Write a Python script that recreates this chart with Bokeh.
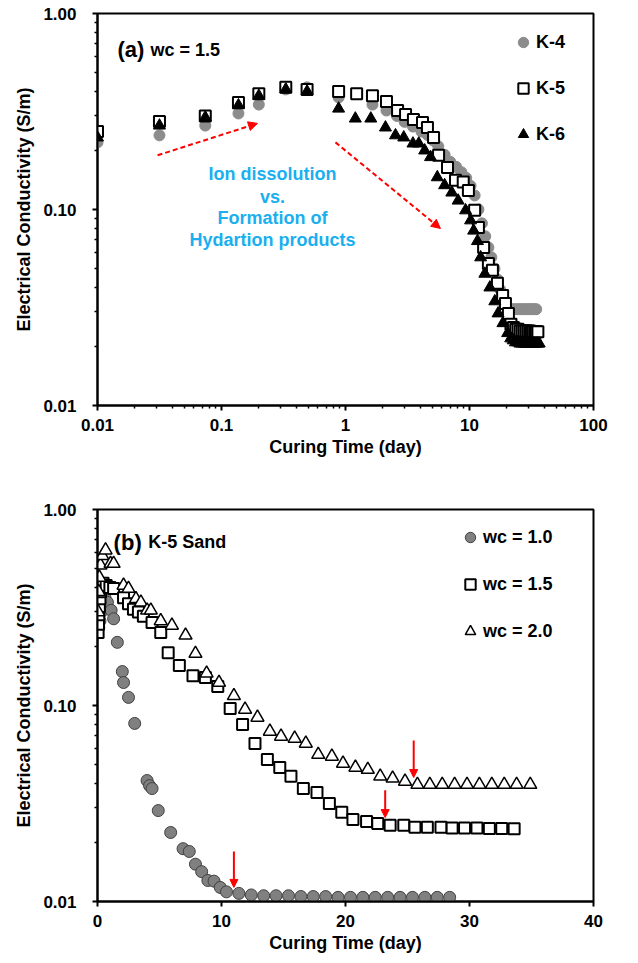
from bokeh.plotting import figure
from bokeh.layouts import column
from bokeh.models import (FixedTicker, CustomJSTickFormatter, Label, Arrow, NormalHead,
                          Legend, LegendItem, Range1d)
from bokeh.embed import file_html
from bokeh.resources import INLINE

FONT = "Liberation Sans"

# ---------------- Panel (a) data: wc = 1.5 ----------------
K4_time = [0.01, 0.0316, 0.074, 0.137, 0.2, 0.33, 0.49, 0.88, 1.23, 1.65,
           2.14, 2.6, 3.0, 3.5, 4.1, 4.6, 5.1, 5.6, 6.3, 7.0,
           7.8, 8.6, 9.4, 10.2, 11.0, 11.8, 12.6, 13.4, 14.2, 15.0,
           15.9, 16.8, 17.7, 18.6, 19.5, 20.5, 21.5, 22.5, 23.5, 24.5,
           25.5, 26.5, 27.5, 28.5, 29.5, 30.5, 31.5, 32.5, 33.5, 34.5]
K4_ec = [0.22, 0.239, 0.268, 0.309, 0.343, 0.41, 0.42, 0.373, 0.39, 0.343,
         0.32, 0.30, 0.28, 0.265, 0.25, 0.24, 0.225, 0.21, 0.19, 0.175,
         0.165, 0.155, 0.145, 0.132, 0.118, 0.10, 0.085, 0.073, 0.064, 0.057,
         0.05, 0.044, 0.039, 0.035, 0.033, 0.031, 0.031, 0.031, 0.031, 0.031,
         0.031, 0.031, 0.031, 0.031, 0.031, 0.031, 0.031, 0.031, 0.031, 0.031]

K5_time = [0.01, 0.0316, 0.074, 0.137, 0.2, 0.33, 0.49, 0.88, 1.23, 1.65,
           2.14, 2.63, 3.05, 3.53, 4.18, 4.58, 5.13, 5.63, 6.65, 7.71,
           8.9, 9.8, 11.0, 11.8, 13.0, 14.2, 15.3, 16.8, 18.5, 19.5,
           20.6, 21.6, 22.6, 23.6, 24.6, 25.6, 26.6, 27.6, 28.6, 29.6,
           30.6, 31.6, 32.6, 33.6, 34.6, 35.6]
K5_ec = [0.25, 0.281, 0.30, 0.351, 0.39, 0.42, 0.41, 0.40, 0.39, 0.38,
         0.356, 0.32, 0.305, 0.288, 0.278, 0.262, 0.233, 0.189, 0.164, 0.141,
         0.138, 0.125, 0.099, 0.081, 0.064, 0.053, 0.049, 0.042, 0.0364, 0.0331,
         0.0295, 0.026, 0.025, 0.0245, 0.0245, 0.024, 0.024, 0.024, 0.024, 0.024,
         0.024, 0.0238, 0.0238, 0.0238, 0.0238, 0.0238]

K6_time = [0.01, 0.0316, 0.074, 0.137, 0.2, 0.33, 0.49, 0.88, 1.2, 1.6,
           2.1, 2.53, 2.95, 3.5, 3.9, 4.35, 4.85, 5.5, 6.3, 7.2,
           8.1, 9.3, 10.2, 10.8, 11.6, 12.3, 13.3, 14.6, 16.0, 17.0,
           18.6, 20.3, 21.5, 22.5, 23.5, 24.5, 25.5, 26.5, 27.5, 28.5,
           29.5, 30.5, 31.5, 32.5, 33.5, 34.5, 35.5, 36.5]
K6_ec = [0.233, 0.268, 0.295, 0.34, 0.38, 0.41, 0.40, 0.327, 0.291, 0.291,
         0.262, 0.239, 0.233, 0.217, 0.217, 0.20, 0.185, 0.146, 0.133, 0.122,
         0.111, 0.099, 0.088, 0.078, 0.069, 0.057, 0.047, 0.040, 0.034, 0.0295,
         0.0263, 0.0234, 0.022, 0.0215, 0.021, 0.021, 0.0207, 0.0207, 0.0207, 0.0207,
         0.0207, 0.0207, 0.0207, 0.0207, 0.0207, 0.0207, 0.0207, 0.0207]

# ---------------- Panel (b) data: K-5 sand ----------------
wc10_time = [0.1, 0.2, 0.3, 0.45, 0.6, 0.8, 1.1, 1.3, 1.6, 2.0,
             2.1, 2.5, 3.0, 4.0, 4.2, 4.4, 4.9, 5.9, 6.9, 7.4,
             7.9, 8.4, 8.9, 9.4, 9.9, 10.4, 11.4, 12.4, 13.4, 14.4,
             15.4, 16.4, 17.4, 18.4, 19.4, 20.4, 21.4, 22.4, 23.4, 24.4,
             25.4, 26.4, 27.4, 28.4]
wc10_ec = [0.25, 0.27, 0.30, 0.33, 0.355, 0.336, 0.306, 0.277, 0.21, 0.149,
           0.131, 0.11, 0.081, 0.0414, 0.039, 0.0377, 0.0291, 0.0225, 0.0186, 0.018,
           0.0155, 0.0142, 0.0128, 0.0127, 0.0118, 0.0112, 0.011, 0.0108, 0.0107, 0.0107,
           0.0107, 0.0106, 0.0106, 0.0106, 0.0105, 0.0105, 0.0105, 0.0105, 0.0105, 0.0105,
           0.0105, 0.0105, 0.0105, 0.0105]

wc15_time = [0.05, 0.08, 0.1, 0.15, 0.2, 0.25, 0.3, 0.45, 0.7, 1.0,
             1.3, 2.1, 2.5, 2.9, 3.3, 3.7, 4.4, 5.1, 5.7, 6.6,
             7.7, 8.7, 9.7, 10.7, 11.7, 12.7, 13.7, 14.7, 15.6, 16.6,
             17.7, 18.7, 19.7, 20.6, 21.7, 22.6, 23.6, 24.7, 25.6, 26.6,
             27.7, 28.6, 29.6, 30.6, 31.6, 32.6, 33.6]
wc15_ec = [0.236, 0.26, 0.29, 0.32, 0.35, 0.38, 0.41, 0.42, 0.41, 0.40,
           0.395, 0.355, 0.33, 0.31, 0.30, 0.285, 0.265, 0.236, 0.186, 0.16,
           0.142, 0.139, 0.125, 0.0966, 0.08, 0.064, 0.053, 0.0483, 0.0435, 0.0377,
           0.036, 0.0316, 0.0285, 0.0262, 0.0256, 0.025, 0.0245, 0.0245, 0.0239, 0.0239,
           0.0239, 0.0237, 0.0237, 0.0237, 0.0236, 0.0236, 0.0235]

wc20_time = [0.05, 0.1, 0.15, 0.24, 0.4, 0.65, 1.05, 1.3, 2.1, 2.5,
             3.1, 3.5, 4.0, 4.3, 5.1, 6.0, 7.1, 7.9, 8.8, 9.8,
             11.0, 11.9, 12.9, 13.9, 14.8, 15.9, 16.8, 17.8, 18.9, 19.8,
             20.8, 21.8, 22.8, 23.8, 24.8, 25.8, 26.8, 27.8, 28.8, 29.8,
             30.8, 31.8, 32.8, 33.8, 34.9]
wc20_ec = [0.30, 0.38, 0.45, 0.52, 0.58, 0.62, 0.53, 0.53, 0.41, 0.395,
           0.35, 0.336, 0.306, 0.306, 0.27, 0.256, 0.228, 0.184, 0.146, 0.131,
           0.112, 0.0955, 0.0869, 0.0737, 0.0695, 0.0679, 0.064, 0.0562, 0.055, 0.0506,
           0.0483, 0.0471, 0.0435, 0.0425, 0.041, 0.0395, 0.0395, 0.0395, 0.0395, 0.0395,
           0.0395, 0.0395, 0.0395, 0.0395, 0.0395]

# annotation anchors (data coordinates)
note_lines = ["Ion dissolution", "vs.", "Formation of", "Hydartion products"]
note_y = [0.151, 0.1165, 0.09, 0.0695]
arrow_a = [((0.0305, 0.189), (0.195, 0.275)), ((0.83, 0.22), (5.83, 0.080))]
arrow_b = [((11.0, 0.018), (11.0, 0.0118)), ((23.2, 0.0369), (23.2, 0.0268)),
           ((25.5, 0.0663), (25.5, 0.0429))]

log_minor = [m * 10.0 ** e for e in range(-2, 2) for m in range(2, 10)]


def style(p, xticks, xminor, xfmt, yfmt):
    p.xgrid.visible = False
    p.ygrid.visible = False
    p.outline_line_color = "black"
    p.outline_line_width = 2
    p.xaxis.ticker = FixedTicker(ticks=xticks, minor_ticks=xminor)
    p.yaxis.ticker = FixedTicker(ticks=[0.01, 0.1, 1.0], minor_ticks=log_minor)
    p.xaxis.formatter = CustomJSTickFormatter(code=xfmt)
    p.yaxis.formatter = CustomJSTickFormatter(code=yfmt)
    for ax in (p.xaxis[0], p.yaxis[0]):
        ax.axis_line_width = 2
        ax.axis_line_color = "black"
        ax.major_tick_in = 0
        ax.major_tick_out = 5
        ax.minor_tick_in = 0
        ax.minor_tick_out = 3
        ax.major_tick_line_width = 2
        ax.minor_tick_line_width = 1.5
        ax.major_tick_line_color = "black"
        ax.minor_tick_line_color = "black"
        ax.major_label_text_font = FONT
        ax.major_label_text_font_style = "bold"
        ax.major_label_text_font_size = "17px"
        ax.major_label_text_color = "black"
        ax.axis_label_text_font = FONT
        ax.axis_label_text_font_style = "bold"
        ax.axis_label_text_font_size = "18px"
        ax.axis_label_text_color = "black"
    p.xaxis.major_label_standoff = 8
    p.xaxis.axis_label_standoff = 3
    p.yaxis.major_label_standoff = 16
    p.yaxis.axis_label_standoff = 6
    p.xaxis.axis_label = "Curing Time (day)"
    p.yaxis.axis_label = "Electrical Conductivity (S/m)"


def add_legend(p, items, loc):
    leg = Legend(items=items, location=loc, orientation="vertical")
    leg.border_line_color = None
    leg.background_fill_alpha = 0
    leg.padding = 0
    leg.margin = 0
    leg.glyph_width = 26
    leg.glyph_height = 28
    leg.label_height = 28
    leg.spacing = 18
    leg.label_standoff = 0
    leg.label_text_font = FONT
    leg.label_text_font_style = "bold"
    leg.label_text_font_size = "18px"
    leg.label_text_color = "black"
    p.add_layout(leg, "center")


def txt(p, x, y, s, size, align="left", baseline="alphabetic", color="black"):
    p.add_layout(Label(x=x, y=y, text=s, text_font=FONT, text_font_style="bold",
                       text_font_size=size, text_align=align, text_baseline=baseline,
                       text_color=color))


# ---------------- Figure (a) ----------------
p1 = figure(x_axis_type="log", y_axis_type="log",
            x_range=Range1d(0.01, 100), y_range=Range1d(0.01, 1.0),
            frame_width=496, frame_height=392, width=638, height=465,
            min_border_left=97, min_border_right=45, min_border_top=13, min_border_bottom=60,
            output_backend="svg", toolbar_location=None)
style(p1, [0.01, 0.1, 1, 10, 100], log_minor, "return String(tick)", "return tick.toFixed(2)")

r4 = p1.scatter(K4_time, K4_ec, marker="circle", size=11, fill_color="#8c8c8c", line_color="#8c8c8c")
r5 = p1.scatter(K5_time, K5_ec, marker="square", size=11, fill_color="white", line_color="black", line_width=2)
r6 = p1.scatter(K6_time, K6_ec, marker="triangle", size=12, fill_color="black", line_color="black")

add_legend(p1, [LegendItem(label="K-4", renderers=[r4]),
                LegendItem(label="K-5", renderers=[r5]),
                LegendItem(label="K-6", renderers=[r6])], (413, 257))

txt(p1, 0.0145, 0.655, "(a)", "22px")
txt(p1, 0.0267, 0.655, "wc = 1.5", "18px")
for s, yy in zip(note_lines, note_y):
    txt(p1, 0.258, yy, s, "18px", align="center", baseline="middle", color="#1AAFEF")
for (x0, y0), (x1, y1) in arrow_a:
    p1.add_layout(Arrow(end=NormalHead(size=9, fill_color="red", line_color="red"),
                        x_start=x0, y_start=y0, x_end=x1, y_end=y1,
                        line_color="red", line_width=2, line_dash="5 3"))

# ---------------- Figure (b) ----------------
p2 = figure(y_axis_type="log",
            x_range=Range1d(0, 40), y_range=Range1d(0.01, 1.0),
            frame_width=496, frame_height=392, width=638, height=498,
            min_border_left=97, min_border_right=45, min_border_top=44, min_border_bottom=62,
            output_backend="svg", toolbar_location=None)
style(p2, [0, 10, 20, 30, 40], [], "return String(tick)", "return tick.toFixed(2)")
p2.xaxis.minor_tick_out = 0

q1 = p2.scatter(wc10_time, wc10_ec, marker="circle", size=12, fill_color="#808080", line_color="#404040", line_width=1)
q2 = p2.scatter(wc15_time, wc15_ec, marker="square", size=11, fill_color="white", line_color="black", line_width=2)
q3 = p2.scatter(wc20_time, wc20_ec, marker="triangle", size=13, fill_color="white", line_color="black", line_width=1.5)

add_legend(p2, [LegendItem(label="wc = 1.0", renderers=[q1]),
                LegendItem(label="wc = 1.5", renderers=[q2]),
                LegendItem(label="wc = 2.0", renderers=[q3])], (360, 256))
p2.legend.spacing = 19

txt(p2, 1.3, 0.679, "(b)", "22px")
txt(p2, 4.1, 0.679, "K-5 Sand", "18px")
for (x0, y0), (x1, y1) in arrow_b:
    p2.add_layout(Arrow(end=NormalHead(size=8, fill_color="red", line_color="red"),
                        x_start=x0, y_start=y0, x_end=x1, y_end=y1,
                        line_color="red", line_width=2))

layout = column(p1, p2, spacing=0)
open("out.html", "w").write(file_html(layout, INLINE))
